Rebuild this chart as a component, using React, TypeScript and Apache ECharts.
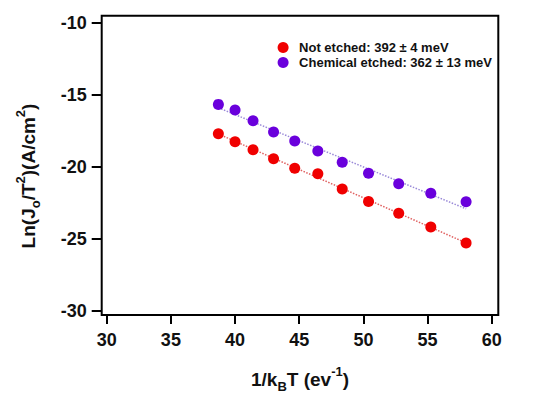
import React, { useEffect, useRef } from "react";
import * as echarts from "echarts";

// 1/kT values (eV^-1)
const invKT = [38.7, 40.0, 41.4, 43.0, 44.65, 46.45, 48.35, 50.4, 52.75, 55.25, 58.0];
const notEtched = [-17.71, -18.26, -18.82, -19.44, -20.11, -20.49, -21.55, -22.42, -23.24, -24.19, -25.3];
const chemEtched = [-15.67, -16.06, -16.81, -17.59, -18.22, -18.91, -19.69, -20.46, -21.18, -21.85, -22.43];
const xTicks = [30, 35, 40, 45, 50, 55, 60];
const yTicks = [-30, -25, -20, -15, -10];
const seriesNames = ["Not etched: 392 \u00b1 4 meV", "Chemical etched: 362 \u00b1 13 meV"];

const FONT = "'Liberation Sans', Arial, sans-serif";

function fit(xs: number[], ys: number[]): number[][] {
  const n = xs.length;
  const mx = xs.reduce((a, b) => a + b, 0) / n;
  const my = ys.reduce((a, b) => a + b, 0) / n;
  let sxy = 0, sxx = 0;
  for (let i = 0; i < n; i++) {
    sxy += (xs[i] - mx) * (ys[i] - my);
    sxx += (xs[i] - mx) * (xs[i] - mx);
  }
  const b = sxy / sxx;
  const a = my - b * mx;
  const x0 = Math.min(...xs), x1 = Math.max(...xs);
  return [[x0, a + b * x0], [x1, a + b * x1]];
}

export default function App() {
  const ref = useRef<HTMLDivElement>(null);
  useEffect(() => {
    if (!ref.current) return;
    const chart = echarts.init(ref.current, undefined, { renderer: "svg" });
    const red = "#f00000";
    const purple = "#6a00dc";
    const rich = {
      n: { fontSize: 19, fontWeight: "bold", fontFamily: FONT, fill: "#111", lineHeight: 28 },
      sub: { fontSize: 13, fontWeight: "bold", fontFamily: FONT, fill: "#111", verticalAlign: "bottom", lineHeight: 15 },
      sup: { fontSize: 13, fontWeight: "bold", fontFamily: FONT, fill: "#111", verticalAlign: "top", lineHeight: 15 },
    };
    chart.setOption({
      animation: false,
      backgroundColor: "#ffffff",
      textStyle: { fontFamily: FONT },
      grid: {
        left: 101.7,
        right: 55.7,
        top: 15.7,
        bottom: 83,
        show: true,
        borderColor: "#000",
        borderWidth: 2,
        backgroundColor: "transparent",
      },
      legend: {
        orient: "vertical",
        left: 272.6,
        top: 36,
        itemWidth: 22,
        itemHeight: 11,
        itemGap: 2,
        icon: "circle",
        data: seriesNames,
        textStyle: { fontFamily: FONT, fontWeight: "bold", fontSize: 13, color: "#111" },
      },
      xAxis: {
        type: "value",
        min: 29.61,
        max: 60.51,
        axisLine: { show: false },
        splitLine: { show: false },
        axisTick: { show: true, length: 9, lineStyle: { color: "#000", width: 2 }, customValues: xTicks },
        axisLabel: {
          customValues: xTicks,
          color: "#111",
          fontFamily: FONT,
          fontWeight: "bold",
          fontSize: 18,
          margin: 16,
        },
      },
      yAxis: {
        type: "value",
        min: -30.3,
        max: -9.51,
        axisLine: { show: false },
        splitLine: { show: false },
        axisTick: { show: true, length: 10, lineStyle: { color: "#000", width: 2 }, customValues: yTicks },
        axisLabel: {
          customValues: yTicks,
          color: "#111",
          fontFamily: FONT,
          fontWeight: "bold",
          fontSize: 18,
          margin: 15,
        },
      },
      graphic: [
        {
          type: "text",
          x: 300,
          y: 379,
          style: {
            text: "{n|1/k}{sub|B}{n|T (ev}{sup|-1}{n|)}",
            align: "center",
            verticalAlign: "middle",
            fontFamily: FONT,
            rich,
          },
        },
        {
          type: "text",
          x: 28,
          y: 176,
          rotation: Math.PI / 2,
          style: {
            text: "{n|Ln(J}{sub|o}{n|/T}{sup|2}{n|)(A/cm}{sup|2}{n|)}",
            align: "center",
            verticalAlign: "middle",
            fontFamily: FONT,
            rich,
          },
        },
      ],
      series: [
        {
          name: "fitRed",
          type: "line",
          data: fit(invKT, notEtched),
          symbol: "none",
          lineStyle: { color: "#e06060", width: 1.5, type: "dotted" },
          z: 2,
        },
        {
          name: "fitPurple",
          type: "line",
          data: fit(invKT, chemEtched),
          symbol: "none",
          lineStyle: { color: "#9a8ad8", width: 1.5, type: "dotted" },
          z: 2,
        },
        {
          name: seriesNames[0],
          type: "scatter",
          data: invKT.map((x, i) => [x, notEtched[i]]),
          symbol: "circle",
          symbolSize: 11,
          itemStyle: { color: red, opacity: 1 },
          z: 3,
        },
        {
          name: seriesNames[1],
          type: "scatter",
          data: invKT.map((x, i) => [x, chemEtched[i]]),
          symbol: "circle",
          symbolSize: 11,
          itemStyle: { color: purple, opacity: 1 },
          z: 3,
        },
      ],
    });
    return () => chart.dispose();
  }, []);
  return (
    <div
      ref={ref}
      style={{ position: "absolute", left: 0, top: 0, width: 554, height: 398, background: "#fff" }}
    />
  );
}
